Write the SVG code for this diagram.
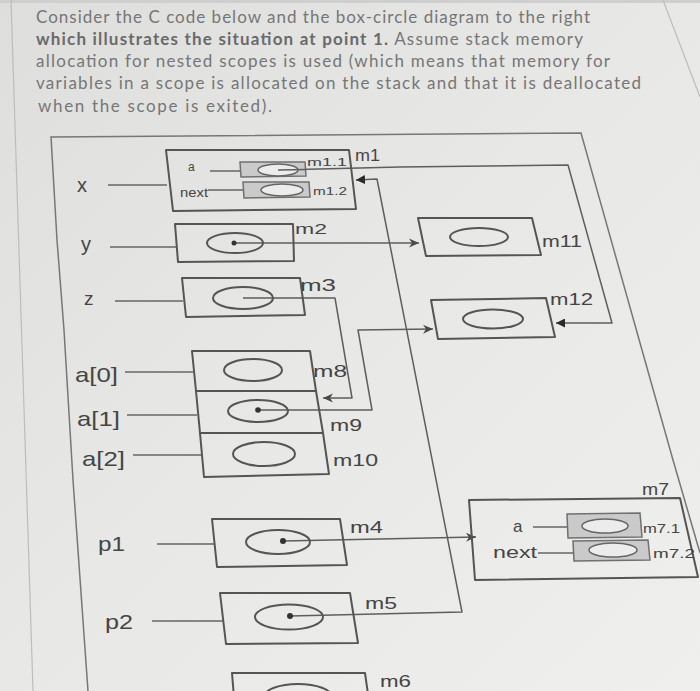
<svg xmlns="http://www.w3.org/2000/svg" width="700" height="691" viewBox="0 0 700 691">
<style>
.txt{font-family:Lato,"Liberation Sans",sans-serif;font-size:17px;fill:#767676}
.b{font-weight:bold;fill:#6a6a6a}
.lbl{font-family:"Liberation Sans",Arial,sans-serif;fill:#454545}
.box{fill:none;stroke:#555;stroke-width:2;stroke-linejoin:round}
.inner{fill:#cacaca;stroke:#707070;stroke-width:1.5}
.ell{fill:none;stroke:#555;stroke-width:2}
.iell{fill:#ececec;stroke:#666;stroke-width:1.5}
.dot{fill:#333}
.frame{fill:none;stroke:#777;stroke-width:1.5}
.bind{fill:none;stroke:#666;stroke-width:1.5}
.ptr{fill:none;stroke:#5e5e5e;stroke-width:1.5;stroke-linejoin:round}
.page{fill:none;stroke:#bdbdbd;stroke-width:1.2}
</style>
<defs>
<linearGradient id="bg" x1="0" y1="0" x2="1" y2="1">
<stop offset="0" stop-color="#dededc"/>
<stop offset="0.5" stop-color="#e8e8e6"/>
<stop offset="1" stop-color="#efefed"/>
</linearGradient>
<marker id="solid" viewBox="0 0 10 10" refX="10" refY="5" markerWidth="9" markerHeight="9" orient="auto" markerUnits="userSpaceOnUse">
<path d="M0,0 L10,5 L0,10 z" fill="#2a2a2a"/>
</marker>
<marker id="barb" viewBox="0 0 10 10" refX="10" refY="5" markerWidth="10" markerHeight="10" orient="auto" markerUnits="userSpaceOnUse">
<path d="M0,0.5 L10,5 L0,9.5 L3,5 z" fill="#4a4a4a"/>
</marker>
</defs>
<rect width="700" height="691" fill="url(#bg)"/>
<rect width="700" height="3" fill="#cfcfcf"/>
<g id="page-edges">
<line class="page" x1="11" y1="0" x2="33" y2="691"/>
<line class="page" x1="663" y1="0" x2="700" y2="97"/>
</g>
<g id="question">
<text class="txt" x="36" y="23" textLength="554" lengthAdjust="spacing">Consider the C code below and the box-circle diagram to the right</text>
<text class="txt" x="36" y="45" textLength="547" lengthAdjust="spacing"><tspan class="b">which illustrates the situation at point 1.</tspan> Assume stack memory</text>
<text class="txt" x="36" y="67" textLength="574" lengthAdjust="spacing">allocation for nested scopes is used (which means that memory for</text>
<text class="txt" x="36" y="89" textLength="605" lengthAdjust="spacing">variables in a scope is allocated on the stack and that it is deallocated</text>
<text class="txt" x="38" y="112" textLength="234" lengthAdjust="spacing">when the scope is exited).</text>
</g>
<g id="scope-frame">
<polyline class="frame" points="88,691 73,480 64,330 57,240 51,137 581,133 642,350 673,460 700,553"/>
</g>
<g id="connectors">
<line class="bind" x1="108" y1="185" x2="167" y2="185"/>
<line class="bind" x1="110" y1="247" x2="176" y2="247"/>
<line class="bind" x1="115" y1="301" x2="183" y2="301"/>
<line class="bind" x1="125" y1="372" x2="193" y2="372"/>
<line class="bind" x1="127" y1="415" x2="197" y2="415"/>
<line class="bind" x1="133" y1="455" x2="201" y2="455"/>
<line class="bind" x1="157" y1="544" x2="214" y2="544"/>
<line class="bind" x1="152" y1="621" x2="223" y2="621"/>
<line class="bind" x1="210" y1="171" x2="240" y2="171"/>
<line class="bind" x1="208" y1="190" x2="243" y2="190"/>
<line class="bind" x1="533" y1="527" x2="567" y2="527"/>
<line class="bind" x1="538" y1="553" x2="573" y2="553"/>
<path class="ptr" d="M278,170 L400,167 L568,165 L612,323 L556,323" marker-end="url(#solid)"/>
<path class="ptr" d="M234,243 L419,243" marker-end="url(#barb)"/>
<path class="ptr" d="M243,298 L335,298 L352,398 L323,398" marker-end="url(#barb)"/>
<path class="ptr" d="M258,410 L372,410 L358,330 L433,329" marker-end="url(#barb)"/>
<path class="ptr" d="M283,541 L476,537" marker-end="url(#barb)"/>
<path class="ptr" d="M290,616 L462,612 L377,179 L356,180" marker-end="url(#solid)"/>
</g>
<g id="var-labels" class="lbl">
<text x="77" y="192" font-size="20">x</text>
<text x="81" y="251" font-size="20">y</text>
<text x="84" y="305" font-size="19">z</text>
<text x="75" y="382" font-size="21" textLength="43" lengthAdjust="spacingAndGlyphs">a[0]</text>
<text x="77" y="426" font-size="21" textLength="43" lengthAdjust="spacingAndGlyphs">a[1]</text>
<text x="82" y="466" font-size="21" textLength="43" lengthAdjust="spacingAndGlyphs">a[2]</text>
<text x="98" y="551" font-size="21" textLength="27" lengthAdjust="spacingAndGlyphs">p1</text>
<text x="105" y="629" font-size="21" textLength="28" lengthAdjust="spacingAndGlyphs">p2</text>
</g>
<g id="m1">
<polygon class="box" points="166,150 349,150 356,209 173,211"/>
<text class="lbl" x="188" y="171" font-size="12">a</text>
<text class="lbl" x="180" y="197" font-size="12" textLength="28" lengthAdjust="spacingAndGlyphs">next</text>
<text class="lbl" x="355" y="161" font-size="16" textLength="25" lengthAdjust="spacingAndGlyphs">m1</text>
</g>
<g id="m1.1">
<polygon class="inner" points="240,162 305,162 306,176 241,177"/>
<ellipse class="iell" cx="278" cy="170" rx="20" ry="6"/>
<line class="ptr" x1="278" y1="170" x2="306" y2="169.5"/>
<text class="lbl" x="307" y="166" font-size="11" textLength="40" lengthAdjust="spacingAndGlyphs">m1.1</text>
</g>
<g id="m1.2">
<polygon class="inner" points="243,182 309,182 310,197 244,198"/>
<ellipse class="iell" cx="282" cy="190" rx="21" ry="6"/>
<text class="lbl" x="313" y="195" font-size="11" textLength="34" lengthAdjust="spacingAndGlyphs">m1.2</text>
</g>
<g id="m2">
<polygon class="box" points="175,224 293,224 294,261 178,262"/>
<ellipse class="ell" cx="235" cy="243" rx="28" ry="10"/>
<circle class="dot" cx="234" cy="243" r="2.5"/>
<text class="lbl" x="295" y="234" font-size="15" textLength="32" lengthAdjust="spacingAndGlyphs">m2</text>
</g>
<g id="m3">
<polygon class="box" points="182,278 300,278 305,315 186,317"/>
<ellipse class="ell" cx="243" cy="298" rx="30" ry="11"/>
<text class="lbl" x="300" y="291" font-size="16" textLength="36" lengthAdjust="spacingAndGlyphs">m3</text>
</g>
<g id="m8">
<polygon class="box" points="192,351 310,351 316,391 196,391"/>
<ellipse class="ell" cx="253" cy="370" rx="29" ry="11"/>
<text class="lbl" x="313" y="377" font-size="17" textLength="34" lengthAdjust="spacingAndGlyphs">m8</text>
</g>
<g id="m9">
<polygon class="box" points="196,391 316,391 323,433 200,433"/>
<ellipse class="ell" cx="258" cy="411" rx="30" ry="11"/>
<circle class="dot" cx="258" cy="410" r="2.8"/>
<text class="lbl" x="330" y="431" font-size="17" textLength="32" lengthAdjust="spacingAndGlyphs">m9</text>
</g>
<g id="m10">
<polygon class="box" points="200,433 323,433 329,474 204,477"/>
<ellipse class="ell" cx="264" cy="454" rx="31" ry="12"/>
<text class="lbl" x="333" y="466" font-size="17" textLength="45" lengthAdjust="spacingAndGlyphs">m10</text>
</g>
<g id="m11">
<polygon class="box" points="418,218 532,218 541,255 426,256"/>
<ellipse class="ell" cx="479" cy="237" rx="29" ry="9"/>
<text class="lbl" x="542" y="247" font-size="16" textLength="40" lengthAdjust="spacingAndGlyphs">m11</text>
</g>
<g id="m12">
<polygon class="box" points="431,300 546,298 555,337 438,339"/>
<ellipse class="ell" cx="493" cy="319" rx="30" ry="9.5"/>
<text class="lbl" x="550" y="305" font-size="16" textLength="43" lengthAdjust="spacingAndGlyphs">m12</text>
</g>
<g id="m4">
<polygon class="box" points="212,519 340,519 347,565 217,567"/>
<ellipse class="ell" cx="278" cy="542" rx="32" ry="12"/>
<circle class="dot" cx="283" cy="541" r="3"/>
<text class="lbl" x="350" y="533" font-size="17" textLength="33" lengthAdjust="spacingAndGlyphs">m4</text>
</g>
<g id="m5">
<polygon class="box" points="220,593 350,593 358,643 226,644"/>
<ellipse class="ell" cx="289" cy="617" rx="34" ry="12.5"/>
<circle class="dot" cx="290" cy="616" r="3"/>
<text class="lbl" x="365" y="609" font-size="17" textLength="32" lengthAdjust="spacingAndGlyphs">m5</text>
</g>
<g id="m6">
<polygon class="box" points="232,673 365,673 372,722 236,722"/>
<ellipse class="ell" cx="298" cy="697" rx="34" ry="13"/>
<text class="lbl" x="380" y="687" font-size="17" textLength="31" lengthAdjust="spacingAndGlyphs">m6</text>
</g>
<g id="m7">
<polygon class="box" points="469,500 680,498 698,577 475,580"/>
<text class="lbl" x="642" y="495" font-size="17" textLength="27" lengthAdjust="spacingAndGlyphs">m7</text>
<text class="lbl" x="513" y="532" font-size="17">a</text>
<text class="lbl" x="493" y="558" font-size="17" textLength="44" lengthAdjust="spacingAndGlyphs">next</text>
</g>
<g id="m7.1">
<polygon class="inner" points="567,514 640,513 642,537 568,538"/>
<ellipse class="iell" cx="605" cy="526" rx="23" ry="7"/>
<text class="lbl" x="643" y="533" font-size="12" textLength="37" lengthAdjust="spacingAndGlyphs">m7.1</text>
</g>
<g id="m7.2">
<polygon class="inner" points="573,541 648,540 650,560 574,561"/>
<ellipse class="iell" cx="613" cy="550" rx="24" ry="7"/>
<text class="lbl" x="653" y="558" font-size="12" textLength="42" lengthAdjust="spacingAndGlyphs">m7.2</text>
</g>
</svg>
